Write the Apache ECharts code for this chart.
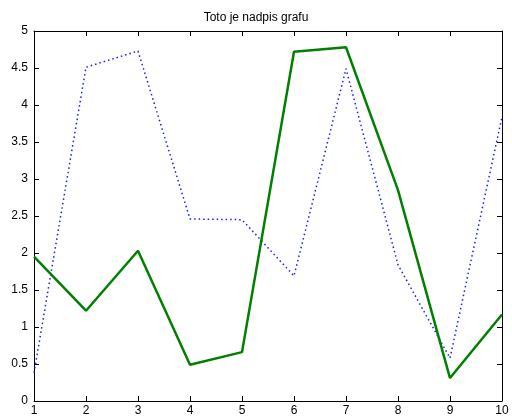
<!DOCTYPE html>
<html>
<head>
<meta charset="utf-8">
<script src="https://cdn.jsdelivr.net/npm/echarts@6/dist/echarts.min.js"></script>
<style>html,body{margin:0;padding:0;background:#fff}#c{width:512px;height:420px}</style>
</head>
<body>
<div id="c"></div>
<script>
const titleText = "Toto je nadpis grafu";
const xValues = [1, 2, 3, 4, 5, 6, 7, 8, 9, 10];
const blueDotted = [0.38, 4.51, 4.73, 2.46, 2.45, 1.69, 4.49, 1.84, 0.58, 3.84];
const greenSolid = [1.95, 1.22, 2.03, 0.49, 0.66, 4.72, 4.78, 2.85, 0.31, 1.17];
const yTickLabels = ["0", "0.5", "1", "1.5", "2", "2.5", "3", "3.5", "4", "4.5", "5"];

const font = "Liberation Sans, Arial, sans-serif";
const axisCommon = {
  axisLine: { show: true, onZero: false, lineStyle: { color: '#000', width: 1 } },
  axisTick: { show: true, inside: true, length: 5, lineStyle: { color: '#000' } },
  splitLine: { show: false }
};
const chart = echarts.init(document.getElementById('c'));
chart.setOption({
  animation: false,
  backgroundColor: '#fff',
  title: {
    text: titleText, left: 'center', top: 7,
    textStyle: { fontFamily: font, fontSize: 12, fontWeight: 'normal', color: '#000' }
  },
  grid: { left: 34, right: 10, top: 31, bottom: 19 },
  xAxis: [
    Object.assign({ type: 'value', min: 1, max: 10, interval: 1, position: 'bottom',
      axisLabel: { fontFamily: font, fontSize: 12, color: '#000', margin: 4 } }, axisCommon),
    Object.assign({ type: 'value', min: 1, max: 10, interval: 1, position: 'top',
      axisLabel: { show: false } }, axisCommon)
  ],
  yAxis: [
    Object.assign({ type: 'value', min: 0, max: 5, interval: 0.5, position: 'left',
      axisLabel: { fontFamily: font, fontSize: 12, color: '#000', margin: 6,
        formatter: (v) => yTickLabels[Math.round(v * 2)] } }, axisCommon),
    Object.assign({ type: 'value', min: 0, max: 5, interval: 0.5, position: 'right',
      axisLabel: { show: false } }, axisCommon)
  ],
  series: [
    {
      type: 'line', symbol: 'none', xAxisIndex: 0, yAxisIndex: 0,
      data: xValues.map((x, i) => [x, blueDotted[i]]),
      lineStyle: { color: '#1a1aff', width: 1.5, type: [1.5, 3] }
    },
    {
      type: 'line', symbol: 'none', xAxisIndex: 0, yAxisIndex: 0,
      data: xValues.map((x, i) => [x, greenSolid[i]]),
      lineStyle: { color: '#008000', width: 2.5 }
    }
  ]
});
</script>
</body>
</html>
